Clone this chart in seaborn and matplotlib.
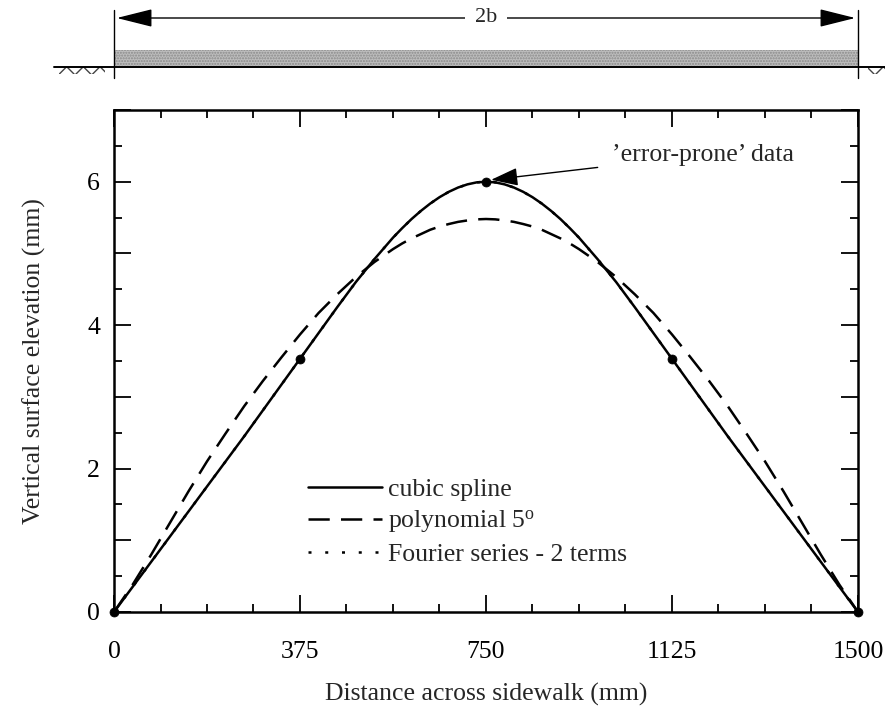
import matplotlib
matplotlib.use("Agg")
import matplotlib.pyplot as plt
import seaborn as sns
import pandas as pd
from matplotlib.patches import Rectangle, FancyArrowPatch
from matplotlib.lines import Line2D
from matplotlib.transforms import blended_transform_factory
from matplotlib.ticker import MultipleLocator, FixedLocator

# Distance across the sidewalk (mm); sampled more finely around the crown
distance = [0, 37.5, 75, 112.5, 150, 187.5, 225, 262.5, 300, 337.5,
            375, 412.5, 450, 487.5, 525, 562.5, 581.25, 600, 618.75, 637.5,
            656.25, 675, 693.75, 712.5, 731.25, 750, 768.75, 787.5, 806.25, 825,
            843.75, 862.5, 881.25, 900, 918.75, 937.5, 975, 1012.5, 1050, 1087.5,
            1125, 1162.5, 1200, 1237.5, 1275, 1312.5, 1350, 1387.5, 1425, 1462.5,
            1500]

# Fitted surface profiles (mm)
spline_y = [0.00, 0.35, 0.70, 1.05, 1.40, 1.75, 2.10, 2.45, 2.81, 3.17,
            3.53, 3.89, 4.25, 4.60, 4.92, 5.22, 5.354, 5.48, 5.593, 5.695,
            5.784, 5.859, 5.919, 5.963, 5.991, 6.00, 5.991, 5.963, 5.919, 5.859,
            5.784, 5.695, 5.593, 5.48, 5.354, 5.22, 4.92, 4.60, 4.25, 3.89,
            3.53, 3.17, 2.81, 2.45, 2.10, 1.75, 1.40, 1.05, 0.70, 0.35,
            0.00]
poly_y = [0.00, 0.38, 0.80, 1.24, 1.68, 2.10, 2.49, 2.87, 3.22, 3.55,
          3.87, 4.17, 4.43, 4.67, 4.88, 5.06, 5.14, 5.21, 5.27, 5.33,
          5.375, 5.41, 5.44, 5.46, 5.475, 5.48, 5.475, 5.46, 5.44, 5.41,
          5.375, 5.33, 5.27, 5.21, 5.14, 5.06, 4.88, 4.67, 4.43, 4.17,
          3.87, 3.55, 3.22, 2.87, 2.49, 2.10, 1.68, 1.24, 0.80, 0.38,
          0.00]
# the two-term Fourier fit lies on the spline at this scale
fourier_y = list(spline_y)

# Measured elevations
data_x = [0, 375, 750, 1125, 1500]
data_y = [0.0, 3.53, 6.0, 3.53, 0.0]

x_ticks = [0, 375, 750, 1125, 1500]
y_ticks = [0, 2, 4, 6]

labels = ["cubic spline", "polynomial 5$^{\\mathrm{o}}$", "Fourier series - 2 terms"]

sns.set_theme(style="ticks")
plt.rcParams["font.family"] = ["Liberation Serif", "DejaVu Serif"]
plt.rcParams["mathtext.fontset"] = "custom"
plt.rcParams["mathtext.rm"] = "Liberation Serif"
plt.rcParams["mathtext.it"] = "Liberation Serif:italic"

W, H = 885, 706
fig = plt.figure(figsize=(W / 100, H / 100), dpi=100)
ax = fig.add_axes([114 / W, 1 - 612 / H, (858 - 114) / W, (612 - 110) / H])

df = pd.DataFrame({"x": distance, "spline": spline_y, "poly": poly_y, "fourier": fourier_y})
pts = pd.DataFrame({"x": data_x, "y": data_y})

lw = 1.8
sns.lineplot(data=df, x="x", y="fourier", ax=ax, color="black", lw=lw,
             linestyle=(0, (1.2, 5.5)), sort=False)
sns.lineplot(data=df, x="x", y="poly", ax=ax, color="black", lw=lw,
             dashes=(8.5, 4.5), sort=False)
sns.lineplot(data=df, x="x", y="spline", ax=ax, color="black", lw=lw, sort=False)
sns.scatterplot(data=pts, x="x", y="y", ax=ax, color="black", s=42,
                edgecolor="black", zorder=5, clip_on=False)

ax.set_xlim(0, 1500)
ax.set_ylim(0, 7)
ax.xaxis.set_major_locator(FixedLocator(x_ticks))
ax.xaxis.set_minor_locator(MultipleLocator(93.75))
ax.yaxis.set_major_locator(MultipleLocator(1))
ax.yaxis.set_minor_locator(MultipleLocator(0.5))
ax.set_xticklabels([str(v) for v in x_ticks])
ax.set_yticklabels([str(int(round(v))) if int(round(v)) in y_ticks else ""
                    for v in ax.get_yticks()])

fs = 18.5
ax.tick_params(which="both", direction="in", top=True, right=True, width=1.3,
               colors="black", labelsize=fs)
ax.tick_params(which="major", length=12)
ax.tick_params(which="minor", length=6)
ax.tick_params(axis="x", which="major", pad=21)
ax.tick_params(axis="y", which="major", pad=10)
for s in ax.spines.values():
    s.set_linewidth(1.8)
    s.set_color("black")

ax.set_xlabel("Distance across sidewalk (mm)", fontsize=fs, labelpad=14)
ax.set_ylabel("Vertical surface elevation (mm)", fontsize=fs, labelpad=30)

# Legend
h_spline = Line2D([], [], color="black", lw=lw)
h_poly = Line2D([], [], color="black", lw=lw, linestyle=(0, (8.5, 4.5)))
h_four = Line2D([], [], color="black", lw=lw, linestyle=(0, (1.2, 5.5)))
ax.legend([h_spline, h_poly, h_four], labels, loc="upper left",
          bbox_to_anchor=(391, 1.87), bbox_transform=ax.transData,
          frameon=False, fontsize=fs, handlelength=2.9, handletextpad=0.2,
          labelspacing=0.3, borderpad=0, borderaxespad=0)

# Annotation of the peak point
ax.annotate("\u2019error-prone\u2019 data", xy=(752, 6.02), xytext=(1004, 6.37),
            fontsize=fs, va="center", ha="left",
            arrowprops=dict(arrowstyle="-|>,head_length=0.9,head_width=0.3",
                            color="black", lw=1.0, shrinkA=8, shrinkB=3))

# Sidewalk cross-section sketch above the plot
tr = blended_transform_factory(ax.transData, fig.transFigure)
fy = lambda py: 1 - py / H
for xv in (0, 1500):
    ax.add_line(Line2D([xv, xv], [fy(10), fy(78)], transform=tr, color="black",
                       lw=1.0, clip_on=False))
arrow = FancyArrowPatch((0, fy(18)), (1500, fy(18)), transform=tr,
                        arrowstyle="<|-|>,head_length=1.6,head_width=0.4",
                        mutation_scale=14, color="black", lw=1.0, clip_on=False)
ax.add_patch(arrow)
ax.text(750, fy(18), "2b", transform=tr, ha="center", va="center", fontsize=16,
        bbox=dict(facecolor="white", edgecolor="none", pad=7), zorder=6)
slab = Rectangle((0, fy(66)), 1500, fy(50) - fy(66), transform=tr,
                 facecolor="#bdbdbd", edgecolor="#8a8a8a", hatch="......",
                 lw=0, clip_on=False)
ax.add_patch(slab)
ax.add_line(Line2D([-120, 1570], [fy(66.5), fy(66.5)], transform=tr, color="black",
                   lw=1.4, clip_on=False))
for x0, w in ((-110, 92), (1520, 60)):
    ax.add_patch(Rectangle((x0, fy(74)), w, fy(67) - fy(74), transform=tr,
                           facecolor="none", edgecolor="#444444", hatch="xx",
                           lw=0, clip_on=False))

fig.savefig("out.png", dpi=100)
